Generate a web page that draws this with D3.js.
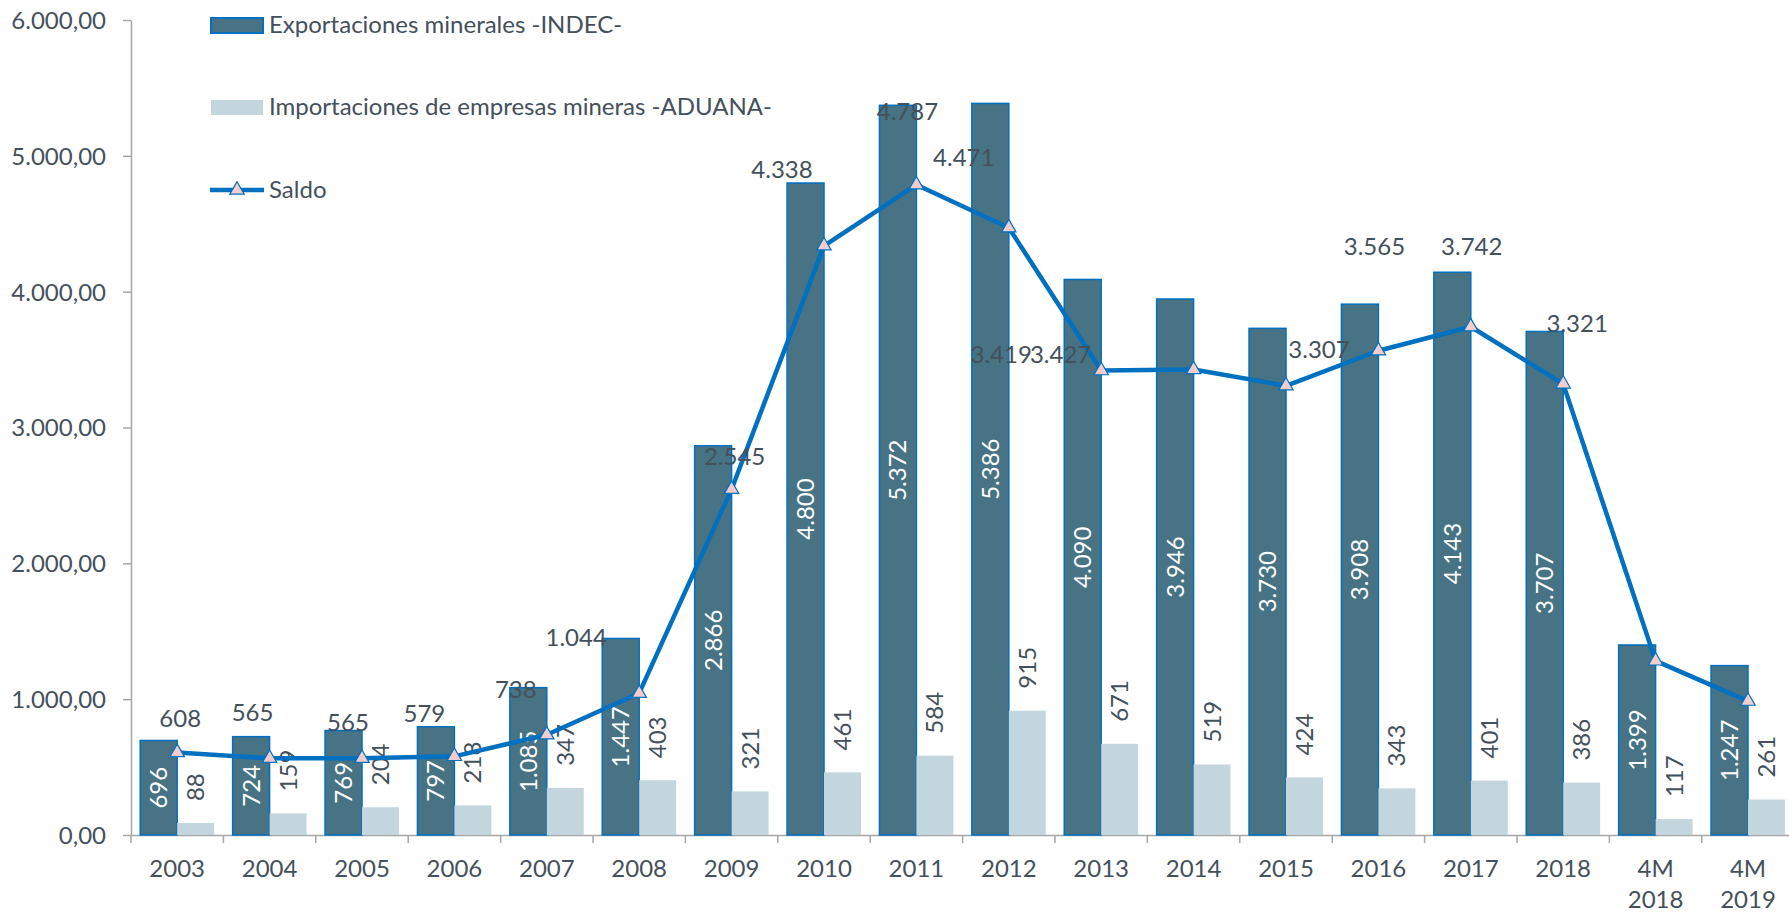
<!DOCTYPE html>
<html>
<head>
<meta charset="utf-8">
<script src="https://cdn.jsdelivr.net/npm/d3@7"></script>
<style>
body{margin:0;background:#fff;}
svg{display:block;font-family:Lato, "Open Sans", sans-serif;}
</style>
</head>
<body>
<script>
(function(){

//chart data
var categories = ["2003", "2004", "2005", "2006", "2007", "2008", "2009", "2010", "2011",
    "2012", "2013", "2014", "2015", "2016", "2017", "2018", "4M 2018", "4M 2019"];
var exportaciones = [696, 724, 769, 797, 1085, 1447, 2866, 4800, 5372,
    5386, 4090, 3946, 3730, 3908, 4143, 3707, 1399, 1247];
var importaciones = [88, 159, 204, 218, 347, 403, 321, 461, 584,
    915, 671, 519, 424, 343, 401, 386, 117, 261];
var saldo = [608, 565, 565, 579, 738, 1044, 2545, 4338, 4787,
    4471, 3419, 3427, 3307, 3565, 3742, 3321, 1282, 986];
var yTicks = [0, 1000, 2000, 3000, 4000, 5000, 6000];
var seriesNames = ["Exportaciones minerales -INDEC-",
    "Importaciones de empresas mineras -ADUANA-", "Saldo"];

//saldo labels were nudged by hand in the original, offset from their point (px)
var saldoLabelOffsets = [[3, -34], [-17, -46], [-14, -36], [-30, -43], [-31, -45], [-63, -56],
    [3, -33], [-42, -76], [-9, -73], [-45, -70], [-100, -16], [-133, -15],
    [33, -36], [-4, -104], [1, -80], [14, -60], null, null];

var colors = {
    dark: "#477385",
    light: "#C3D6DE",
    line: "#0070C0",
    marker: "#F4CCCC",
    axis: "#A6A6A6",
    text: "#44505B"
};

var width = 1789,
    height = 912,
    fontSize = 24;

//spanish number format: 6.000,00
var locale = d3.formatLocale({decimal: ",", thousands: ".", grouping: [3], currency: ["$", ""]});
var fmtAxis = locale.format(",.2f"),
    fmtVal = locale.format(",d");

var svg = d3.select("body")
    .append("svg")
    .attr("width", width)
    .attr("height", height);

//scales (plot runs a bit past the right edge like the original)
var x = d3.scaleBand()
    .domain(categories)
    .range([131, 131 + 18 * 92.4])
    .padding(0);

var xs = d3.scaleBand()
    .domain(["exp", "imp"])
    .range([0, x.bandwidth()])
    .paddingInner(0)
    .paddingOuter(0.25);

var y = d3.scaleLinear()
    .domain([0, 6000])
    .range([835, 20]);

function cx(i){
    return x(categories[i]) + x.bandwidth() / 2;
};

//y axis
var yAxis = svg.append("g")
    .attr("transform", "translate(" + x.range()[0] + ",0)")
    .call(d3.axisLeft(y).tickValues(yTicks).tickFormat(fmtAxis).tickSize(8).tickSizeOuter(0).tickPadding(17));

yAxis.select(".domain").attr("stroke", colors.axis).attr("stroke-width", 1.5);
yAxis.selectAll(".tick line").attr("stroke", colors.axis).attr("stroke-width", 1.5);
yAxis.selectAll(".tick text")
    .attr("fill", colors.text)
    .attr("font-size", fontSize)
    .attr("font-family", "Lato, sans-serif")
    .attr("dy", "0.35em");

//x axis, labels centred in the band, ticks between categories
var xAxis = svg.append("g")
    .attr("transform", "translate(0," + y(0) + ")")
    .call(d3.axisBottom(x).tickSize(0).tickPadding(0));

xAxis.select(".domain").attr("stroke", colors.axis).attr("stroke-width", 1.5);

xAxis.selectAll(".tick text")
    .attr("fill", colors.text)
    .attr("font-size", fontSize)
    .attr("font-family", "Lato, sans-serif")
    .attr("dy", null)
    .attr("y", 0)
    .each(function(d){
        var lines = d.split(" ");
        var t = d3.select(this).text(null);
        lines.forEach(function(line, k){
            t.append("tspan")
                .attr("x", 0)
                .attr("y", 42 + k * 31)
                .text(line);
        });
    });

var boundaries = categories.map(function(c){ return x(c); }).concat([x.range()[1]]);
svg.append("g")
    .selectAll("line")
    .data(boundaries)
    .enter()
    .append("line")
    .attr("x1", function(d){ return d; })
    .attr("x2", function(d){ return d; })
    .attr("y1", y(0))
    .attr("y2", y(0) + 8)
    .attr("stroke", colors.axis)
    .attr("stroke-width", 1.5);

//export bars
svg.append("g")
    .selectAll("rect")
    .data(exportaciones)
    .enter()
    .append("rect")
    .attr("x", function(d, i){ return x(categories[i]) + xs("exp"); })
    .attr("y", function(d){ return y(d); })
    .attr("width", xs.bandwidth())
    .attr("height", function(d){ return y(0) - y(d); })
    .attr("fill", colors.dark)
    .attr("stroke", colors.line)
    .attr("stroke-width", 1.5);

//import bars
svg.append("g")
    .selectAll("rect")
    .data(importaciones)
    .enter()
    .append("rect")
    .attr("x", function(d, i){ return x(categories[i]) + xs("imp"); })
    .attr("y", function(d){ return y(d); })
    .attr("width", xs.bandwidth())
    .attr("height", function(d){ return y(0) - y(d); })
    .attr("fill", colors.light);

//export labels, rotated, centred inside the bar
svg.append("g")
    .selectAll("text")
    .data(exportaciones)
    .enter()
    .append("text")
    .attr("transform", function(d, i){
        var bx = x(categories[i]) + xs("exp") + xs.bandwidth() / 2;
        return "translate(" + bx + "," + (y(d) + y(0)) / 2 + ") rotate(-90)";
    })
    .attr("y", 8.5)
    .attr("text-anchor", "middle")
    .attr("fill", "#fff")
    .attr("font-size", fontSize)
    .text(function(d){ return fmtVal(d); });

//import labels, rotated, above the bar
svg.append("g")
    .selectAll("text")
    .data(importaciones)
    .enter()
    .append("text")
    .attr("transform", function(d, i){
        var bx = x(categories[i]) + xs("imp") + xs.bandwidth() / 2;
        return "translate(" + bx + "," + (y(d) - 22) + ") rotate(-90)";
    })
    .attr("y", 8.5)
    .attr("text-anchor", "start")
    .attr("fill", colors.text)
    .attr("font-size", fontSize)
    .text(function(d){ return fmtVal(d); });

//saldo line
var line = d3.line()
    .x(function(d, i){ return cx(i); })
    .y(function(d){ return y(d); });

svg.append("path")
    .datum(saldo)
    .attr("d", line)
    .attr("fill", "none")
    .attr("stroke", colors.line)
    .attr("stroke-width", 4.5)
    .attr("stroke-linejoin", "round");

var triangle = d3.symbol().type(d3.symbolTriangle).size(90);

svg.append("g")
    .selectAll("path")
    .data(saldo)
    .enter()
    .append("path")
    .attr("d", triangle)
    .attr("transform", function(d, i){ return "translate(" + cx(i) + "," + y(d) + ")"; })
    .attr("fill", colors.marker)
    .attr("stroke", colors.line)
    .attr("stroke-width", 1.2);

//saldo labels
svg.append("g")
    .selectAll("text")
    .data(saldo.filter(function(d, i){ return saldoLabelOffsets[i]; }))
    .enter()
    .append("text")
    .attr("x", function(d, i){ return cx(i) + saldoLabelOffsets[i][0]; })
    .attr("y", function(d, i){ return y(d) + saldoLabelOffsets[i][1] + 8.5; })
    .attr("text-anchor", "middle")
    .attr("fill", colors.text)
    .attr("font-size", fontSize)
    .text(function(d){ return fmtVal(d); });

//legend
var legend = svg.append("g");

legend.append("rect")
    .attr("x", 211).attr("y", 18)
    .attr("width", 52).attr("height", 15)
    .attr("fill", colors.dark)
    .attr("stroke", colors.line)
    .attr("stroke-width", 2);

legend.append("rect")
    .attr("x", 211).attr("y", 100)
    .attr("width", 52).attr("height", 15)
    .attr("fill", colors.light);

legend.append("line")
    .attr("x1", 210).attr("x2", 264)
    .attr("y1", 190).attr("y2", 190)
    .attr("stroke", colors.line)
    .attr("stroke-width", 4.5);

legend.append("path")
    .attr("d", triangle)
    .attr("transform", "translate(237,190)")
    .attr("fill", colors.marker)
    .attr("stroke", colors.line)
    .attr("stroke-width", 1.2);

legend.selectAll("text")
    .data(seriesNames)
    .enter()
    .append("text")
    .attr("x", 269)
    .attr("y", function(d, i){ return [33, 115, 198][i]; })
    .attr("fill", colors.text)
    .attr("font-size", fontSize)
    .text(function(d){ return d; });

})();
</script>
</body>
</html>
